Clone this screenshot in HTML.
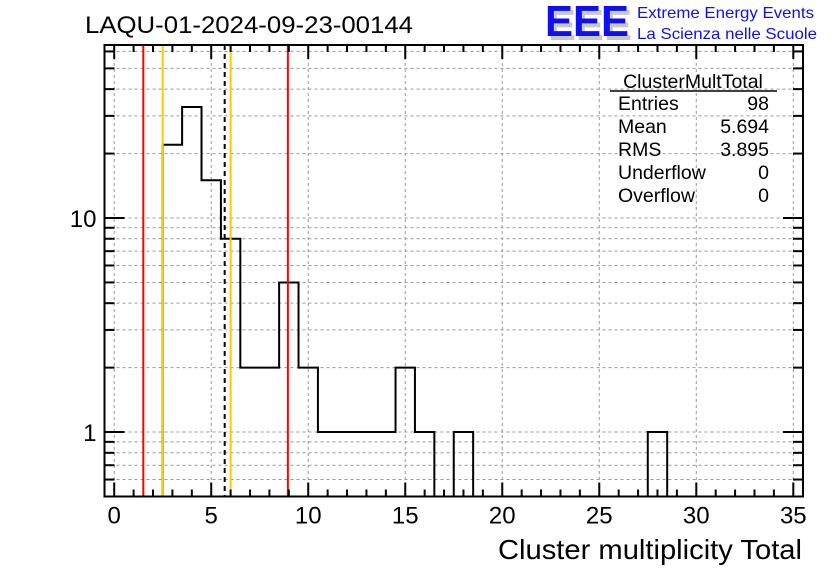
<!DOCTYPE html>
<html><head><meta charset="utf-8"><style>
body{margin:0;background:#fff;}
svg text{font-family:"Liberation Sans",sans-serif;}
</style></head><body>
<svg id="c" width="836" height="572" viewBox="0 0 836 572" xmlns="http://www.w3.org/2000/svg">
<rect width="836" height="572" fill="#fff"/>
<text x="85" y="33" font-size="24" textLength="328" lengthAdjust="spacingAndGlyphs">LAQU-01-2024-09-23-00144</text>
<g>
<text x="548" y="40" font-size="44" font-weight="bold" fill="#c8c8c8" textLength="84" lengthAdjust="spacingAndGlyphs">EEE</text>
<text x="545" y="36" font-size="44" font-weight="bold" fill="#1010ee" textLength="84" lengthAdjust="spacingAndGlyphs">EEE</text>
<text x="637" y="18" font-size="16" fill="#1010ee" textLength="177" lengthAdjust="spacingAndGlyphs">Extreme Energy Events</text>
<text x="637" y="39" font-size="16" fill="#1010ee" textLength="180" lengthAdjust="spacingAndGlyphs">La Scienza nelle Scuole</text>
</g>
<g id="grid"></g>
<g id="marks"></g>
<g id="axes"></g>
<g font-size="19.5">
<text x="693" y="88" text-anchor="middle">ClusterMultTotal</text>
<line x1="610" y1="91" x2="777" y2="91" stroke="#000" stroke-width="1.5"/>
<text x="618" y="110">Entries</text><text x="769" y="110" text-anchor="end">98</text>
<text x="618" y="133">Mean</text><text x="769" y="133" text-anchor="end">5.694</text>
<text x="618" y="156">RMS</text><text x="769" y="156" text-anchor="end">3.895</text>
<text x="618" y="179">Underflow</text><text x="769" y="179" text-anchor="end">0</text>
<text x="618" y="202">Overflow</text><text x="769" y="202" text-anchor="end">0</text>
</g>
<text x="498" y="559" font-size="28" textLength="304" lengthAdjust="spacingAndGlyphs">Cluster multiplicity Total</text>
</svg>
<script>
const binCenters=[3,4,5,6,7,8,9,10,11,12,13,14,15,16,17,18,19,20,21,22,23,24,25,26,27,28];
const binCounts=[22,33,15,8,2,2,5,2,1,1,1,1,2,1,0,1,0,0,0,0,0,0,0,0,0,1];
const xTicks=[0,5,10,15,20,25,30,35];
const yTickLabels=[1,10];
const redLines=[1.5,8.95];
const orangeLines=[2.5,6.0];
const meanValue=5.694;
const NS='http://www.w3.org/2000/svg';
const L=104.5,R=803,T=45,B=496.5;
const X0=-0.5,X1=35.5,Y0=0.5,Y1=64.3;
function sx(v){return L+(v-X0)/(X1-X0)*(R-L);}
function sy(v){return B-(Math.log10(v)-Math.log10(Y0))/(Math.log10(Y1)-Math.log10(Y0))*(B-T);}
function el(tag,attrs,parent){const e=document.createElementNS(NS,tag);for(const k in attrs)e.setAttribute(k,attrs[k]);document.getElementById(parent).appendChild(e);return e;}
for(const t of xTicks){const g=el('line',{x1:sx(t),x2:sx(t),y1:T,y2:B,stroke:'#999','stroke-dasharray':'3,3','stroke-width':1},'grid');

}
const yMinor=[0.6,0.7,0.8,0.9,1,2,3,4,5,6,7,8,9,10,20,30,40,50,60];
for(const v of yMinor){const g=el('line',{x1:L,x2:R,y1:sy(v),y2:sy(v),stroke:'#999','stroke-dasharray':'3,3','stroke-width':1},'grid');

}
let d='';let started=false;
for(let i=0;i<binCenters.length;i++){
  const c=binCenters[i],n=binCounts[i];
  const xl=sx(c-0.5),xr=sx(c+0.5);
  const yv=n>0?sy(n):B;
  if(!started){d+='M'+xl+','+B+' L'+xl+','+yv;started=true;}
  else d+=' L'+xl+','+yv;
  d+=' L'+xr+','+yv;
}
d+=' L'+sx(binCenters[binCenters.length-1]+0.5)+','+B;
const h=el('path',{d:d,fill:'none',stroke:'#000','stroke-width':2},'marks');


for(const v of redLines){const l=el('line',{x1:sx(v),x2:sx(v),y1:T,y2:B,stroke:'#f00','stroke-width':2},'marks');

}
for(const v of orangeLines){const l=el('line',{x1:sx(v),x2:sx(v),y1:T,y2:B,stroke:'#ffc800','stroke-width':2},'marks');

}
const m=el('line',{x1:sx(meanValue),x2:sx(meanValue),y1:T,y2:B,stroke:'#000','stroke-width':2,'stroke-dasharray':'5,4'},'marks');


const f=el('rect',{x:L,y:T,width:R-L,height:B-T,fill:'none',stroke:'#000','stroke-width':2},'axes');


for(let t=0;t<=35;t++){const len=t%5===0?14:7;
el('line',{x1:sx(t),x2:sx(t),y1:B,y2:B-len,stroke:'#000','stroke-width':2},'axes');
el('line',{x1:sx(t),x2:sx(t),y1:T,y2:T+len,stroke:'#000','stroke-width':2},'axes');}
for(const t of xTicks){const tx=el('text',{x:sx(t),y:B+27,'font-size':24,'text-anchor':'middle'},'axes');tx.textContent=t;

}
for(const v of yMinor){const len=(v===1||v===10)?20:10;
el('line',{x1:L,x2:L+len,y1:sy(v),y2:sy(v),stroke:'#000','stroke-width':2},'axes');
el('line',{x1:R,x2:R-len,y1:sy(v),y2:sy(v),stroke:'#000','stroke-width':2},'axes');}
for(const v of yTickLabels){const tx=el('text',{x:L-8,y:sy(v)+9,'font-size':24,'text-anchor':'end'},'axes');tx.textContent=v;

}
</script>
</body></html>
